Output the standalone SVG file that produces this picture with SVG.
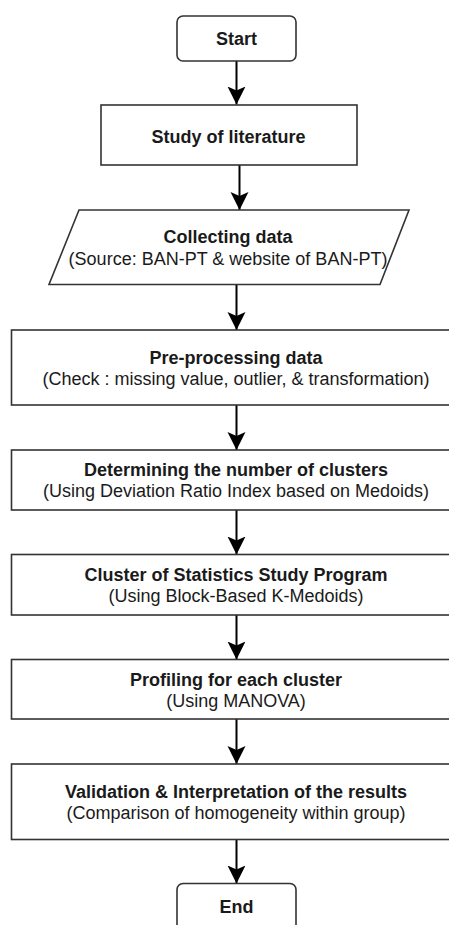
<svg xmlns="http://www.w3.org/2000/svg" width="449" height="925" viewBox="0 0 449 925">
<style>
.box{fill:#fff;stroke:#333;stroke-width:1.6}
.t{font-family:"Liberation Sans",Arial,sans-serif;font-size:18px;fill:#1a1a1a;text-anchor:middle}
.b{font-weight:bold}
.c{stroke:#000;stroke-width:2;fill:none;marker-end:url(#ah)}
</style>
<defs>
<marker id="ah" markerUnits="userSpaceOnUse" markerWidth="18" markerHeight="19" viewBox="0 0 18 19" refX="18" refY="9.5" orient="auto">
<path d="M0,0.5 L18,9.5 L0,18.5 L4,9.5 Z" fill="#000"/>
</marker>
</defs>
<rect width="449" height="925" fill="#fff"/>
<g id="connectors">
<line class="c" x1="236.5" y1="61" x2="236.5" y2="104.5"/>
<line class="c" x1="239.5" y1="165" x2="239.5" y2="210"/>
<line class="c" x1="236.5" y1="285" x2="236.5" y2="330"/>
<line class="c" x1="236.5" y1="405" x2="236.5" y2="450"/>
<line class="c" x1="236.5" y1="510" x2="236.5" y2="554.5"/>
<line class="c" x1="236.5" y1="615" x2="236.5" y2="659.5"/>
<line class="c" x1="236.5" y1="719" x2="236.5" y2="764"/>
<line class="c" x1="236.5" y1="839.5" x2="236.5" y2="883.5"/>
</g>
<g id="start">
<rect class="box" x="177" y="16" width="119" height="45" rx="6"/>
<text class="t b" x="236.5" y="44.5">Start</text>
</g>
<g id="study">
<rect class="box" x="101" y="105" width="256" height="60"/>
<text class="t b" x="228.5" y="142.5">Study of literature</text>
</g>
<g id="collecting">
<polygon class="box" points="79,210 409,210 380,284.5 49,284.5"/>
<text class="t b" x="228" y="243">Collecting data</text>
<text class="t" x="228" y="265">(Source: BAN-PT &amp; website of BAN-PT)</text>
</g>
<g id="preprocessing">
<rect class="box" x="11.5" y="330" width="450" height="75"/>
<text class="t b" x="236" y="364">Pre-processing data</text>
<text class="t" x="236" y="385">(Check : missing value, outlier, &amp; transformation)</text>
</g>
<g id="determining">
<rect class="box" x="11.5" y="450" width="450" height="60"/>
<text class="t b" x="236" y="476">Determining the number of clusters</text>
<text class="t" x="236" y="497">(Using Deviation Ratio Index based on Medoids)</text>
</g>
<g id="cluster">
<rect class="box" x="11.5" y="554.5" width="450" height="60.5"/>
<text class="t b" x="236" y="581">Cluster of Statistics Study Program</text>
<text class="t" x="236" y="602">(Using Block-Based K-Medoids)</text>
</g>
<g id="profiling">
<rect class="box" x="11.5" y="659.5" width="450" height="59.5"/>
<text class="t b" x="236" y="686">Profiling for each cluster</text>
<text class="t" x="236" y="707">(Using MANOVA)</text>
</g>
<g id="validation">
<rect class="box" x="11.5" y="764" width="450" height="75.5"/>
<text class="t b" x="236" y="798">Validation &amp; Interpretation of the results</text>
<text class="t" x="236" y="819">(Comparison of homogeneity within group)</text>
</g>
<g id="end">
<rect class="box" x="177" y="883.5" width="119" height="60" rx="6"/>
<text class="t b" x="236.5" y="913">End</text>
</g>
</svg>
